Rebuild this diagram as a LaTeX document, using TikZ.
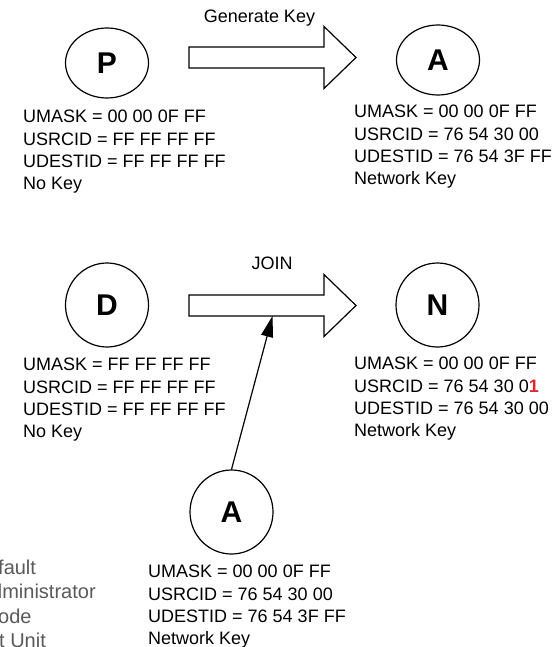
\documentclass[tikz,border=0pt]{standalone}
\usepackage{fontspec}
\setmainfont{Liberation Sans}
\usepackage{xcolor}
\usepackage{tikz}
\usetikzlibrary{arrows.meta,shapes.geometric}
\definecolor{bg}{HTML}{FFFFFF}
\definecolor{ink}{HTML}{000000}
\definecolor{legendgray}{HTML}{5A5A5A}
\definecolor{bitred}{HTML}{E3262B}
\tikzset{
  role/.style={draw=ink, ellipse, line width=1.2bp, minimum width=83bp, minimum height=70bp, inner sep=0pt, font=\fontsize{30bp}{30bp}\selectfont\bfseries},
  rolec/.style={role, minimum height=84bp},
  info/.style={anchor=north west, align=left, inner sep=0pt, text=ink, font=\fontsize{18bp}{22.3bp}\selectfont},
  arrlabel/.style={anchor=base, inner sep=0pt, text=ink, font=\fontsize{18bp}{22bp}\selectfont},
  legend/.style={anchor=base west, inner sep=0pt, text=legendgray, font=\fontsize{20bp}{24bp}\selectfont},
  blockarr/.style={draw=ink, fill=bg, line width=1.2bp, line join=miter},
  link/.style={draw=ink, line width=1.2bp, -{Triangle[length=21bp,width=12bp]}}
}

\begin{document}
\begin{tikzpicture}[x=1bp,y=-1bp]
  \fill[bg] (0,0) rectangle (560,647);
  \useasboundingbox (0,0) rectangle (560,647);

  % block arrows
  \foreach \yc in {57.5,305.5}{
    \draw[blockarr] (189,\yc-10.5) -- (324,\yc-10.5) -- (324,\yc-31) -- (356,\yc)
      -- (324,\yc+31) -- (324,\yc+10.5) -- (189,\yc+10.5) -- cycle;
  }
  \node[arrlabel] (genkey) at (259.5,23) {Generate Key};
  \node[arrlabel] (join) at (272,269.5) {JOIN};

  % roles
  \node[role] (prov) at (107,63) {P};
  \node[role] (admtop) at (438,60) {A};
  \node[rolec] (dflt) at (107,305) {D};
  \node[rolec] (netnode) at (437.5,305) {N};
  \node[rolec] (adm) at (231.5,512) {A};

  \coordinate (joinpt) at (272.5,316);
  \draw[link] (adm.north) -- (joinpt);

  % settings
  \node[info] (provinfo) at (23,110) {UMASK = 00 00 0F FF\\USRCID = FF FF FF FF\\UDESTID = FF FF FF FF\\No Key};
  \node[info] (admtopinfo) at (354,105) {UMASK = 00 00 0F FF\\USRCID = 76 54 30 00\\UDESTID = 76 54 3F FF\\Network Key};
  \node[info] (dfltinfo) at (23,358) {UMASK = FF FF FF FF\\USRCID = FF FF FF FF\\UDESTID = FF FF FF FF\\No Key};
  \node[info] (netnodeinfo) at (354,357) {UMASK = 00 00 0F FF\\USRCID = 76 54 30 0{\color{bitred}\bfseries 1}\\UDESTID = 76 54 30 00\\Network Key};
  \node[info] (adminfo) at (148,565) {UMASK = 00 00 0F FF\\USRCID = 76 54 30 00\\UDESTID = 76 54 3F FF\\Network Key};

  % legend, cut at the left edge
  \node[legend] (leg1) at (-2,574) {fault};
  \node[legend] (leg2) at (-9,598.5) {dministrator};
  \node[legend] (leg3) at (-2,623) {ode};
  \node[legend] (leg4) at (-1,647.5) {t Unit};
\end{tikzpicture}
\end{document}
